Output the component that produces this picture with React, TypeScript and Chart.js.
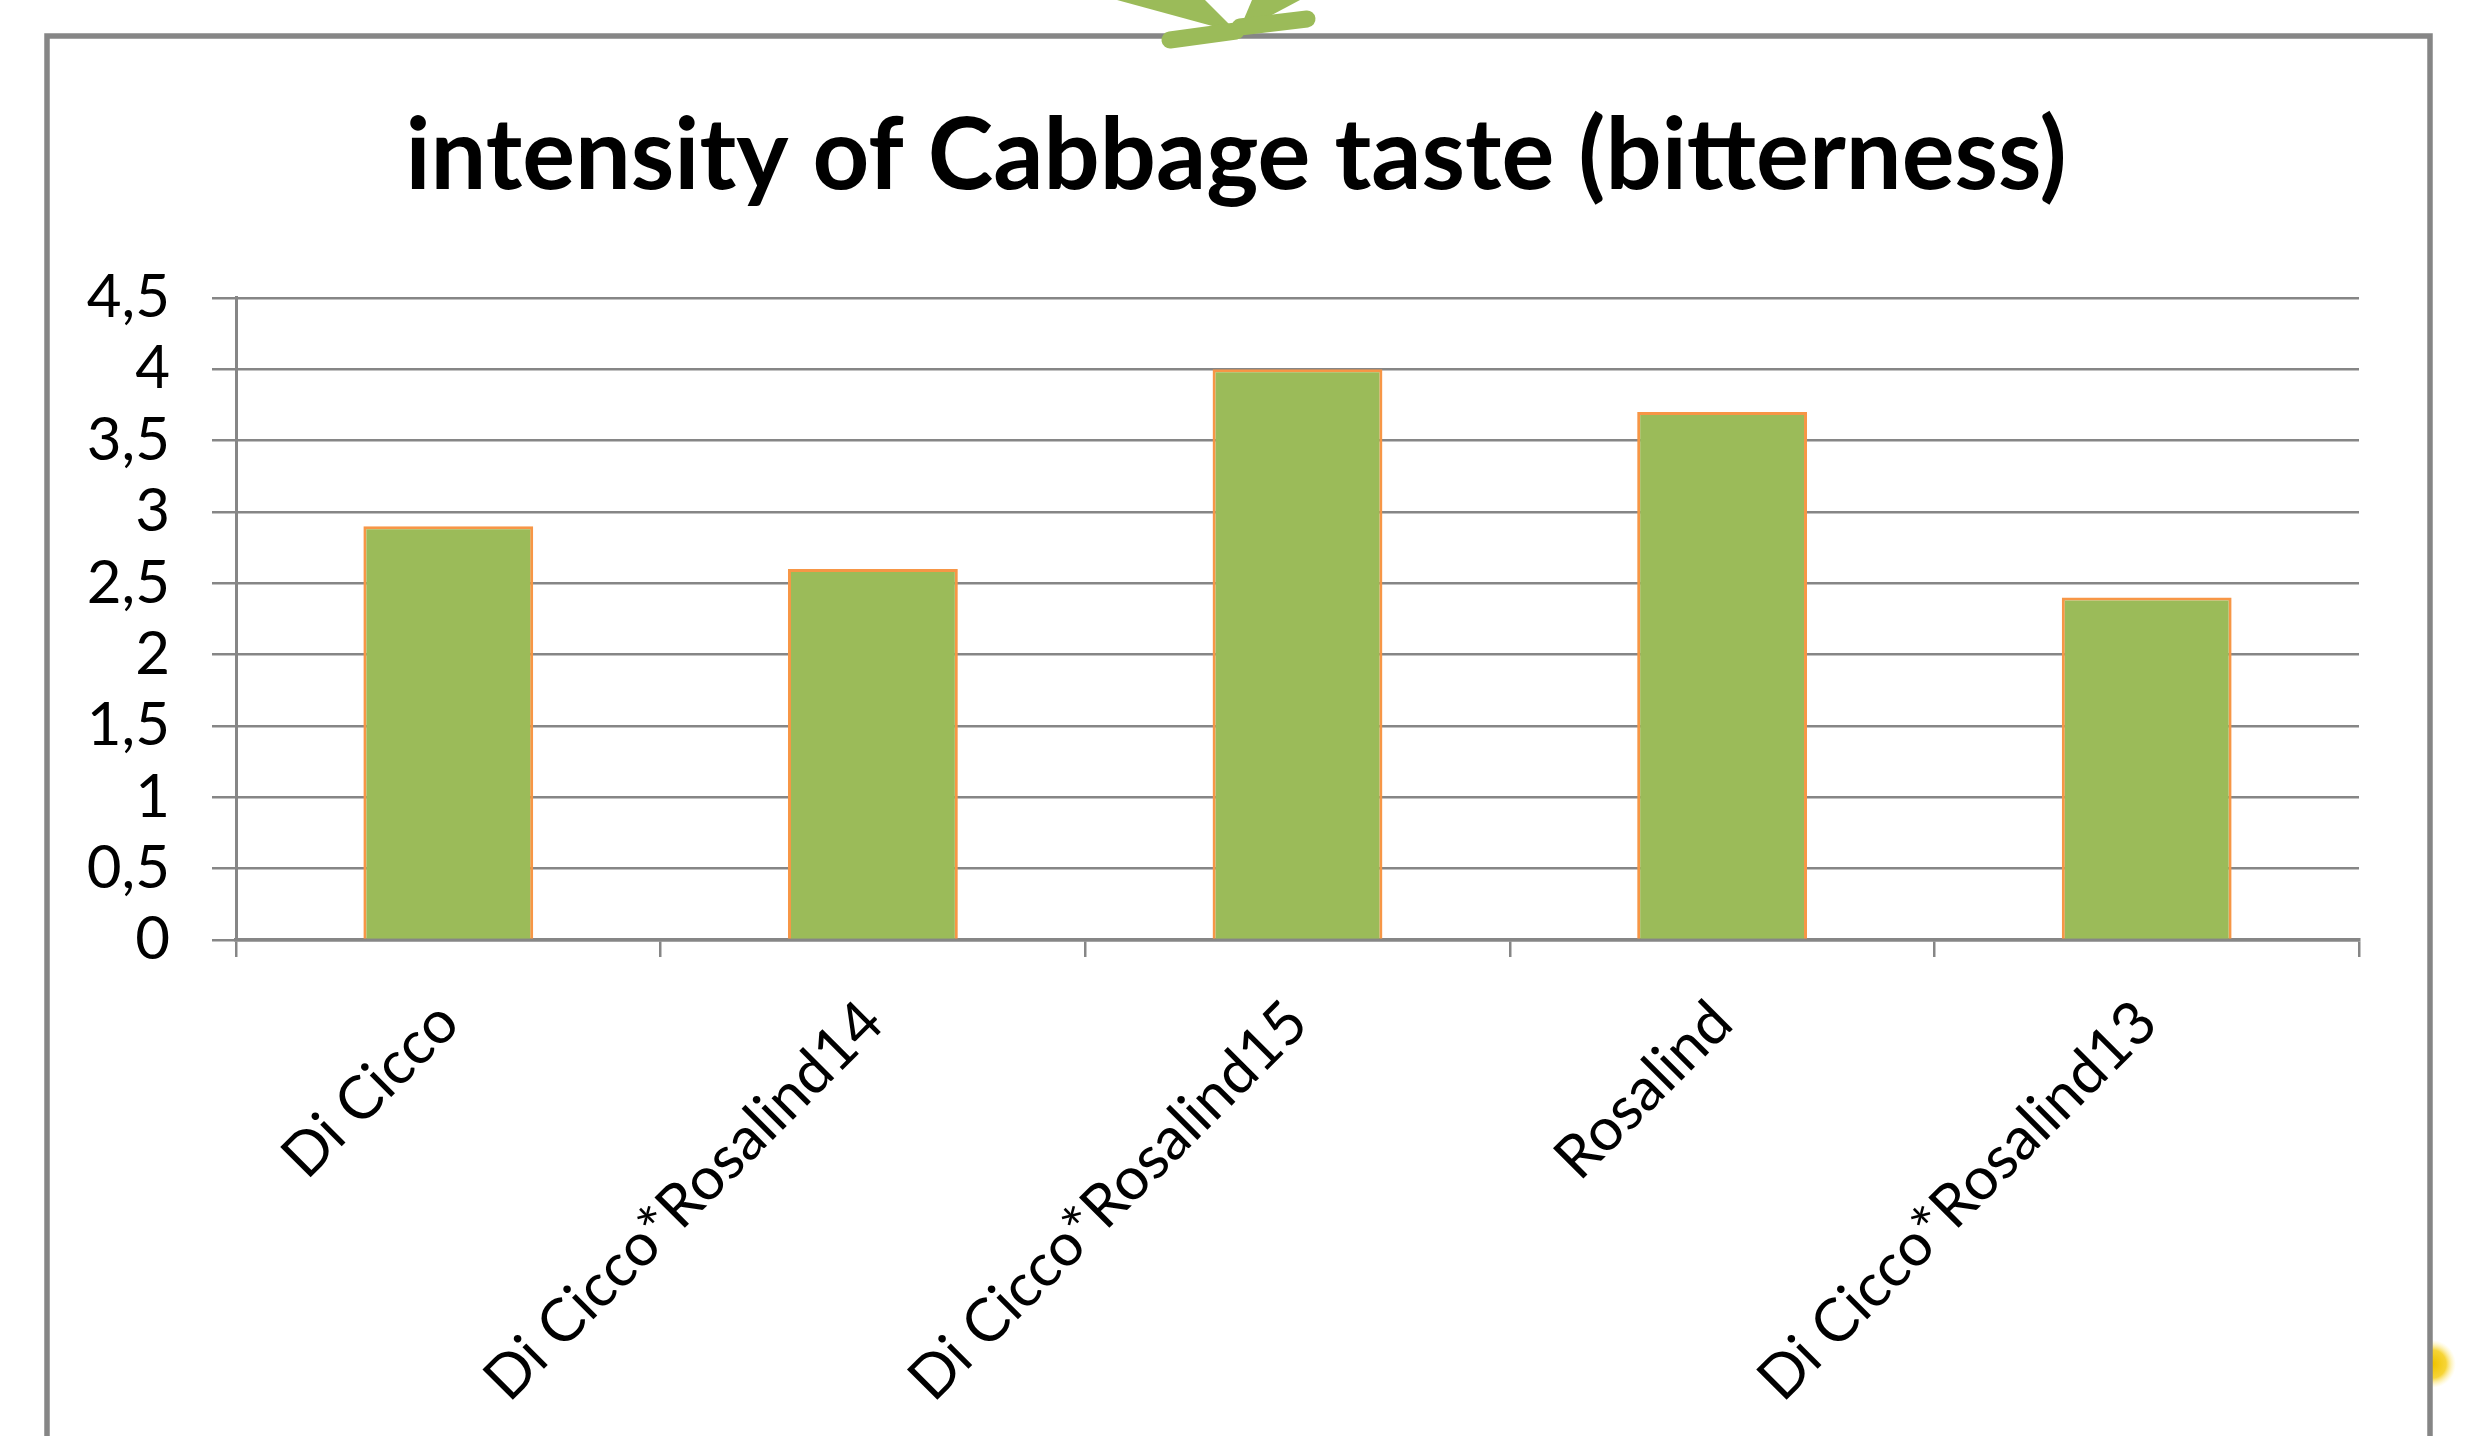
import React, { useEffect, useRef } from 'react';
import { Chart, registerables } from 'chart.js';

Chart.register(...registerables);

const categories = [
  'Di Cicco',
  'Di Cicco*Rosalind14',
  'Di Cicco*Rosalind15',
  'Rosalind',
  'Di Cicco*Rosalind13',
];
const bitterness = [2.9, 2.6, 4.0, 3.7, 2.4];
const yTickValues = [0, 0.5, 1, 1.5, 2, 2.5, 3, 3.5, 4, 4.5];
const yTickLabels = ['0', '0,5', '1', '1,5', '2', '2,5', '3', '3,5', '4', '4,5'];
const chartTitle = 'intensity of Cabbage taste (bitterness)';

const W = 2469;
const H = 1436;
const GRAY = '#868686';
const PLOT_LEFT = 236;
const PLOT_RIGHT = 2359;
const PLOT_BOTTOM = 940;

const decorations = {
  id: 'decorations',
  afterLayout(chart: any) {
    // centre the title over the outer frame rather than over the canvas
    const t = chart.titleBlock;
    if (t) {
      t.left = 113;
      t.right = PLOT_RIGHT;
    }
  },
  beforeDraw(chart: any) {
    const ctx = chart.ctx;
    ctx.save();
    ctx.fillStyle = '#ffffff';
    ctx.fillRect(0, 0, chart.width, chart.height);

    // small yellow blob at the right edge, only outside the frame (slide decoration)
    ctx.save();
    ctx.beginPath();
    ctx.rect(2432, 1300, 40, 130);
    ctx.clip();
    const g = ctx.createRadialGradient(2432, 1364, 2, 2432, 1364, 24);
    g.addColorStop(0, 'rgba(240,196,0,1)');
    g.addColorStop(0.55, 'rgba(245,205,20,0.85)');
    g.addColorStop(1, 'rgba(255,240,150,0)');
    ctx.fillStyle = g;
    ctx.beginPath();
    ctx.arc(2432, 1364, 24, 0, Math.PI * 2);
    ctx.fill();
    ctx.restore();

    // outer chart frame
    ctx.strokeStyle = GRAY;
    ctx.lineWidth = 5.5;
    ctx.strokeRect(47, 36, 2430 - 47, 1600);

    // green arrow tips at the top (slide decoration)
    ctx.fillStyle = '#9BBB59';
    ctx.strokeStyle = '#9BBB59';
    ctx.beginPath();
    ctx.moveTo(1117, 0);
    ctx.lineTo(1205, 0);
    ctx.lineTo(1238, 33);
    ctx.closePath();
    ctx.fill();
    ctx.beginPath();
    ctx.moveTo(1252, 0);
    ctx.lineTo(1300, 0);
    ctx.lineTo(1238, 33);
    ctx.closePath();
    ctx.fill();
    ctx.lineCap = 'round';
    ctx.lineWidth = 17;
    ctx.beginPath();
    ctx.moveTo(1170, 40);
    ctx.lineTo(1236, 31);
    ctx.stroke();
    ctx.beginPath();
    ctx.moveTo(1307, 19);
    ctx.lineTo(1240, 27);
    ctx.stroke();
    ctx.restore();
  },
};

export default function App() {
  const ref = useRef<HTMLCanvasElement | null>(null);

  useEffect(() => {
    if (!ref.current) return;
    const chart = new Chart(ref.current, {
      type: 'bar',
      data: {
        labels: categories,
        datasets: [
          {
            data: bitterness,
            backgroundColor: '#9BBB59',
            borderColor: '#F79646',
            borderWidth: 3,
            barPercentage: 0.4,
            categoryPercentage: 1.0,
          },
        ],
      },
      options: {
        responsive: false,
        animation: false,
        devicePixelRatio: 1,
        layout: { padding: { top: 0, right: W - PLOT_RIGHT, bottom: 0, left: 0 } },
        plugins: {
          legend: { display: false },
          tooltip: { enabled: false },
          title: {
            display: true,
            text: chartTitle,
            color: '#000000',
            font: { family: 'Lato', size: 99, weight: 'bold', lineHeight: 1.2 },
            padding: { top: 98, bottom: 81 },
          },
        },
        scales: {
          x: {
            grid: {
              drawOnChartArea: false,
              drawTicks: true,
              tickLength: 17,
              color: GRAY,
              lineWidth: 2.5,
              offset: true,
            },
            border: { display: true, color: GRAY, width: 3.5 },
            ticks: {
              autoSkip: false,
              maxRotation: 45,
              minRotation: 45,
              padding: 30,
              color: '#000000',
              font: { family: 'Lato', size: 60 },
            },
            afterFit: (s: any) => {
              s.height = H - PLOT_BOTTOM;
            },
          },
          y: {
            min: 0,
            max: 4.5,
            grid: { color: GRAY, lineWidth: 2.5, tickLength: 24, drawTicks: true },
            border: { display: true, color: GRAY, width: 3 },
            ticks: {
              autoSkip: false,
              padding: 42,
              color: '#000000',
              font: { family: 'Lato', size: 60, lineHeight: 1 },
              callback: (_v: any, i: number) => yTickLabels[i],
            },
            afterBuildTicks: (s: any) => {
              s.ticks = yTickValues.map((v) => ({ value: v }));
            },
            afterFit: (s: any) => {
              s.width = PLOT_LEFT;
            },
          },
        },
      },
      plugins: [decorations],
    });
    return () => chart.destroy();
  }, []);

  return (
    <div style={{ position: 'absolute', left: 0, top: 0, width: W, height: H, background: '#fff' }}>
      <canvas ref={ref} width={W} height={H} style={{ display: 'block', width: W, height: H }} />
    </div>
  );
}
